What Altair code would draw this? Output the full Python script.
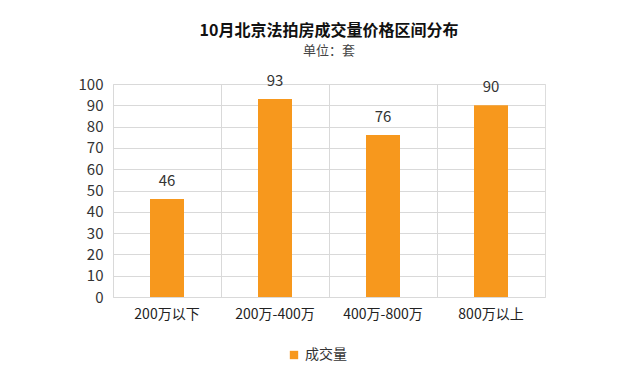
import altair as alt
import pandas as pd

categories = ["200万以下", "200万-400万", "400万-800万", "800万以上"]
values = [46, 93, 76, 90]
series_name = "成交量"

df = pd.DataFrame({"cat": categories, "val": values, "series": [series_name] * 4})

FONT = "Noto Sans CJK SC"
ORANGE = "#F7981D"

base = alt.Chart(df).encode(
    x=alt.X("cat:N", sort=categories, title=None,
            scale=alt.Scale(paddingInner=0, paddingOuter=0),
            axis=alt.Axis(labelAngle=0, grid=True, bandPosition=0, ticks=False,
                          domain=False, labelPadding=10, labelFontSize=14,
                          labelColor="#222", labelFont=FONT, gridColor="#D9D9D9")),
    y=alt.Y("val:Q", title=None,
            scale=alt.Scale(domain=[0, 100], nice=False),
            axis=alt.Axis(values=list(range(0, 101, 10)), labelOverlap=False,
                          ticks=False, domain=False,
                          labelPadding=10, labelFontSize=15, labelColor="#333",
                          labelFont=FONT, gridColor="#D9D9D9")),
)

bars = base.mark_bar(size=34, color=ORANGE).encode(
    color=alt.Color("series:N", scale=alt.Scale(range=[ORANGE]),
                    legend=alt.Legend(title=None, orient="none", legendX=174, legendY=264,
                                      symbolType="square", symbolSize=70,
                                      labelFontSize=14, labelFont=FONT, labelColor="#333",
                                      direction="horizontal")),
)

labels = base.mark_text(dy=-10, fontSize=15, font=FONT, color="#333", baseline="bottom").encode(
    text=alt.Text("val:Q"),
)

chart = (bars + labels).properties(
    width=432,
    height=213,
    autosize=alt.AutoSizeParams(type="none"),
    padding={"left": 105, "top": 76, "right": 87, "bottom": 80},
    title=alt.TitleParams(
        "10月北京法拍房成交量价格区间分布",
        subtitle="单位：套",
        font=FONT, fontSize=16, fontWeight="bold", color="#111",
        subtitleFont=FONT, subtitleFontSize=13, subtitleColor="#444",
        subtitlePadding=6, anchor="middle", offset=16,
    ),
).configure_view(stroke="#D9D9D9").configure(background="white")

chart.save("out.html", embed_options={"renderer": "svg", "actions": False})
